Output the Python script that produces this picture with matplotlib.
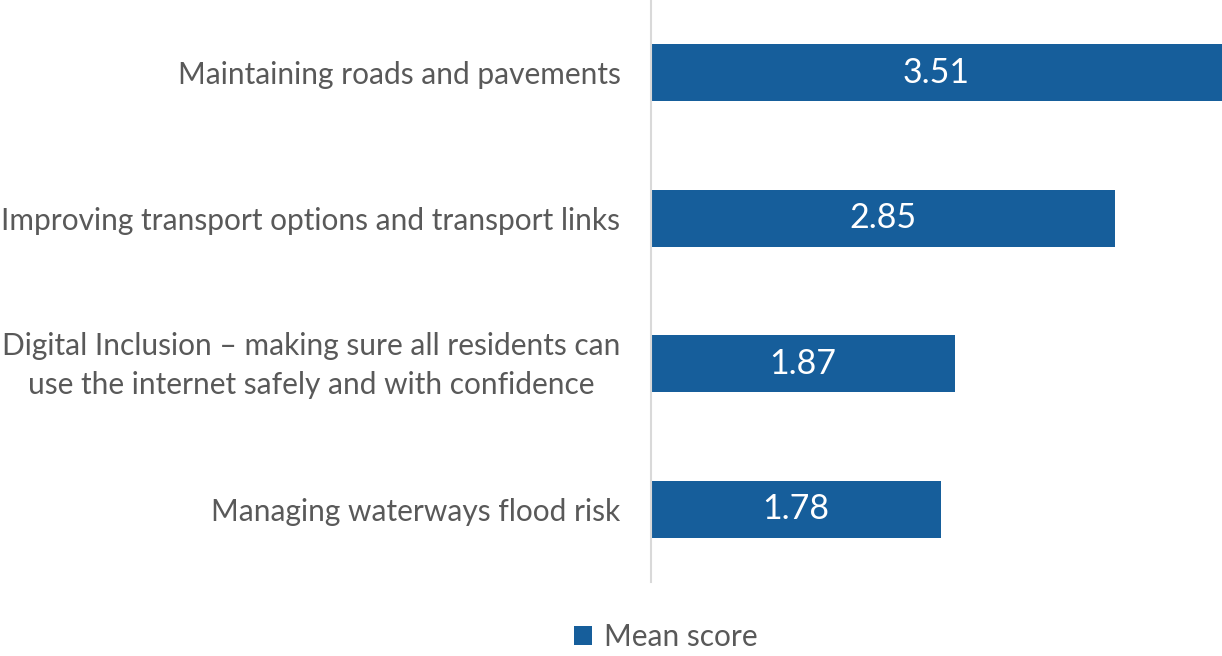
import matplotlib.pyplot as plt
import matplotlib.transforms as mtransforms

categories = ['Maintaining roads and pavements',
              'Improving transport options and transport links',
              'Digital Inclusion \u2013 making sure all residents can\nuse the internet safely and with confidence',
              'Managing waterways flood risk']
scores = [3.51, 2.85, 1.87, 1.78]

bar_color = '#165E9B'
text_color = '#595959'

plt.rcParams['font.family'] = ['Lato', 'DejaVu Sans']

fig = plt.figure(figsize=(12.22, 6.56), dpi=100)
ax = fig.add_axes([0.5327, 0.1128, 0.4673, 0.8872])

ypos = list(range(len(categories)))
bars = ax.barh(ypos, scores, height=0.39, color=bar_color, label='Mean score')
ax.set_ylim(len(categories) - 0.5, -0.5)
ax.set_xlim(0, 3.51)

##数值标签
for y, v in zip(ypos, scores):
    ax.text(v / 2, y, f'{v:.2f}', ha='center', va='center', color='white', fontsize=24.5)

ax.set_yticks(ypos)
labels = ax.set_yticklabels(categories, fontsize=21.5, color=text_color, ha='right',
                            multialignment='center', linespacing=1.45)
ax.tick_params(axis='y', length=0, pad=22)
##两行的标签往上挪一点
for lab in labels:
    if '\n' in lab.get_text():
        lab.set_transform(lab.get_transform() + mtransforms.ScaledTranslation(0, 0.06, fig.dpi_scale_trans))
ax.set_xticks([])
for s in ['top', 'right', 'bottom']:
    ax.spines[s].set_visible(False)
ax.spines['left'].set_color('#D9D9D9')
ax.spines['left'].set_linewidth(1.5)

fig.legend(handles=[bars], labels=['Mean score'], loc='center', bbox_to_anchor=(0.545, 0.029),
           frameon=False, fontsize=21.5, labelcolor=text_color, handlelength=0.6, handleheight=0.6,
           handletextpad=0.4)

fig.savefig('out.png', dpi=100)
